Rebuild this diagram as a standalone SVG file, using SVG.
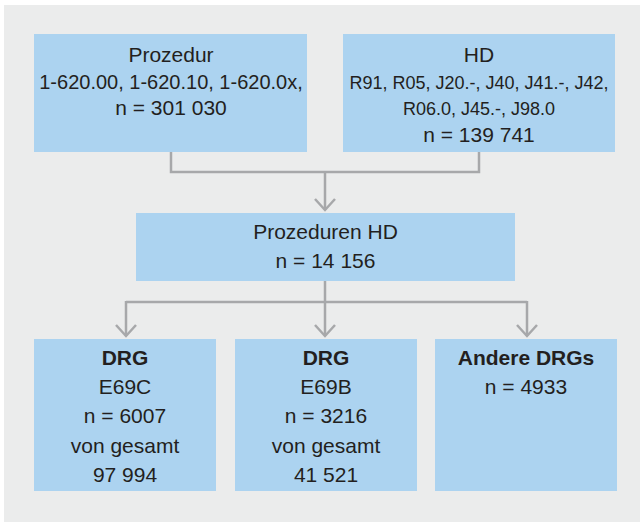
<svg xmlns="http://www.w3.org/2000/svg" width="640" height="522" viewBox="0 0 640 522">
<style>
.box{fill:#ACD3F0}
.t{font-family:"Liberation Sans",Arial,sans-serif;font-size:21px;fill:#231F20;text-anchor:middle}
.s20{font-size:20px}
.s18{font-size:18px}
.b{font-weight:bold}
.c{fill:none;stroke:#A7A8AA;stroke-width:2.5}
</style>
<defs>
<marker id="ah" markerUnits="userSpaceOnUse" markerWidth="30" markerHeight="30" viewBox="-15 -15 30 30" refX="0" refY="0" orient="auto" overflow="visible">
<path d="M-11,-10 L0,0 L-11,10" fill="none" stroke="#A7A8AA" stroke-width="2.5"/>
</marker>
</defs>
<rect x="4" y="5" width="636" height="517" fill="#EBECEC"/>
<g id="connectors">
<path class="c" d="M171,152 V172 H479 V152"/>
<path class="c" d="M325,172 V210" marker-end="url(#ah)"/>
<path class="c" d="M325,281 V302"/>
<path class="c" d="M126,302 H527"/>
<path class="c" d="M126,301 V336" marker-end="url(#ah)"/>
<path class="c" d="M325,302 V336" marker-end="url(#ah)"/>
<path class="c" d="M527,301 V336" marker-end="url(#ah)"/>
</g>
<g id="prozedur">
<rect class="box" x="34" y="34" width="273" height="118"/>
<text class="t" x="171" y="62">Prozedur</text>
<text class="t s20" x="171" y="88.5">1-620.00, 1-620.10, 1-620.0x,</text>
<text class="t" x="171" y="115">n = 301 030</text>
</g>
<g id="hd">
<rect class="box" x="343" y="34" width="272" height="118"/>
<text class="t" x="479" y="62">HD</text>
<text class="t s18" x="479" y="88.5">R91, R05, J20.-, J40, J41.-, J42,</text>
<text class="t s18" x="479" y="115">R06.0, J45.-, J98.0</text>
<text class="t" x="479" y="141.5">n = 139 741</text>
</g>
<g id="prozeduren-hd">
<rect class="box" x="136" y="213" width="379" height="68"/>
<text class="t" x="325.5" y="239">Prozeduren HD</text>
<text class="t" x="325.5" y="268">n = 14 156</text>
</g>
<g id="drg-e69c">
<rect class="box" x="34" y="339" width="182" height="152"/>
<text class="t b" x="125" y="365">DRG</text>
<text class="t" x="125" y="394">E69C</text>
<text class="t" x="125" y="423">n = 6007</text>
<text class="t" x="125" y="452.5">von gesamt</text>
<text class="t" x="125" y="481.5">97 994</text>
</g>
<g id="drg-e69b">
<rect class="box" x="235" y="339" width="182" height="152"/>
<text class="t b" x="326" y="365">DRG</text>
<text class="t" x="326" y="394">E69B</text>
<text class="t" x="326" y="423">n = 3216</text>
<text class="t" x="326" y="452.5">von gesamt</text>
<text class="t" x="326" y="481.5">41 521</text>
</g>
<g id="andere-drgs">
<rect class="box" x="435" y="339" width="182" height="152"/>
<text class="t b" x="526" y="365">Andere DRGs</text>
<text class="t" x="526" y="394">n = 4933</text>
</g>
</svg>
